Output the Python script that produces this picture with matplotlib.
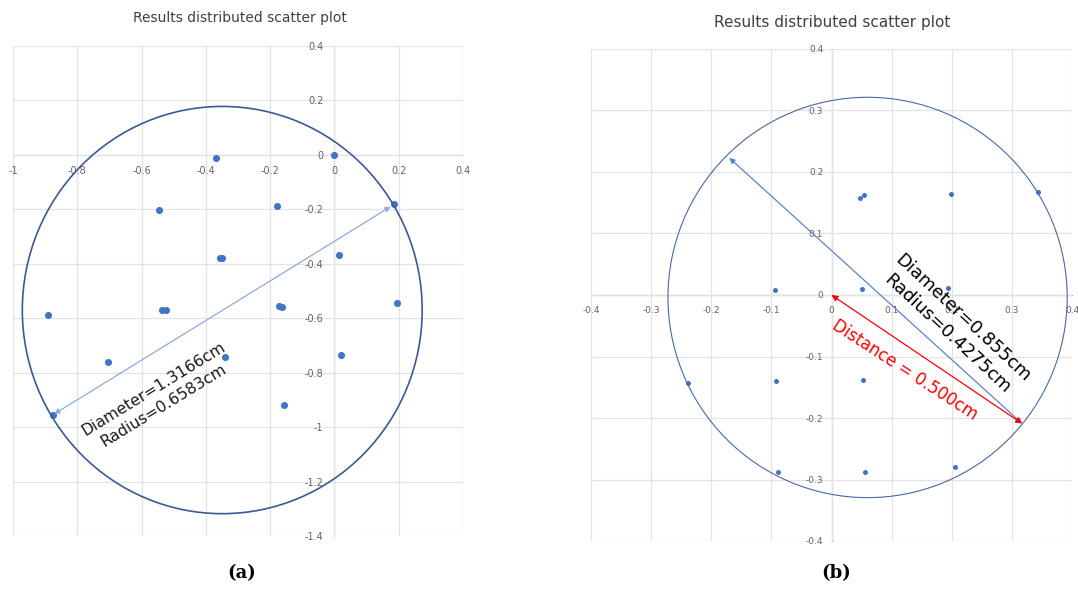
import matplotlib.pyplot as plt
from matplotlib.patches import Ellipse
from matplotlib.ticker import MultipleLocator, FuncFormatter

# ---- chart (a) ----
a_x = [-0.368, 0.0, -0.547, -0.179, 0.186, -0.357, -0.351, 0.013, -0.892,
       -0.535, -0.525, -0.172, -0.164, 0.195, -0.705, -0.340, 0.020, -0.157, -0.877]
a_y = [-0.012, 0.0, -0.204, -0.189, -0.179, -0.380, -0.377, -0.366, -0.588,
       -0.571, -0.571, -0.555, -0.558, -0.544, -0.762, -0.744, -0.734, -0.918, -0.955]
a_circle = (-0.349, -0.570, 1.244, 1.496)   # cx, cy, width, height
a_arrow = ((-0.872, -0.952), (0.175, -0.190))
a_label = 'Diameter=1.3166cm\nRadius=0.6583cm'
a_label_pos = (-0.547, -0.890)
a_xlim, a_ylim = (-1.0, 0.4), (-1.4, 0.4)

# ---- chart (b) ----
b_x = [0.047, 0.054, 0.199, 0.343, -0.094, 0.050, 0.193, -0.239, -0.093,
       0.052, -0.089, 0.055, 0.205]
b_y = [0.158, 0.162, 0.164, 0.167, 0.008, 0.009, 0.012, -0.143, -0.140,
       -0.139, -0.288, -0.287, -0.280]
b_circle = (0.060, -0.004, 0.664, 0.651)
b_arrow = ((-0.170, 0.223), (0.317, -0.209))
b_dist_arrow = ((0.0, 0.0), (0.317, -0.209))
b_label = 'Diameter=0.855cm\nRadius=0.4275cm'
b_label_pos = (0.206, -0.050)
b_dist_label = 'Distance = 0.500cm'
b_dist_pos = (0.122, -0.122)
b_xlim, b_ylim = (-0.4, 0.4), (-0.4, 0.4)

TITLE = 'Results distributed scatter plot'
DOT = '#4472C4'


def tick_fmt(v, _):
    return '{:g}'.format(round(v, 2))


def excel_axes(ax, xlim, ylim, step, axis_color, fs, xpad, ypad):
    ax.set_xlim(xlim)
    ax.set_ylim(ylim)
    ax.xaxis.set_major_locator(MultipleLocator(step))
    ax.yaxis.set_major_locator(MultipleLocator(step))
    ax.xaxis.set_major_formatter(FuncFormatter(tick_fmt))
    ax.yaxis.set_major_formatter(FuncFormatter(tick_fmt))
    ax.grid(True, color='#E3E3E3', linewidth=0.9)
    for ln in ax.get_xgridlines() + ax.get_ygridlines():
        ln.set_clip_on(False)
    ax.set_axisbelow(True)
    for s in ['top', 'right']:
        ax.spines[s].set_visible(False)
    for s in ['left', 'bottom']:
        ax.spines[s].set_position(('data', 0))
        ax.spines[s].set_color(axis_color)
        ax.spines[s].set_linewidth(0.9)
        ax.spines[s].set_zorder(0.5)
    ax.tick_params(axis='x', length=0, labelsize=fs, labelcolor='#636363', pad=xpad)
    ax.tick_params(axis='y', length=0, labelsize=fs, labelcolor='#636363', pad=ypad)


fig = plt.figure(figsize=(10.78, 5.90), dpi=100)

# (a)
ax1 = fig.add_axes([13 / 1078, 1 - 536 / 590, 450 / 1078, 490 / 590])
excel_axes(ax1, a_xlim, a_ylim, 0.2, '#D2D2D2', 7, 8, 8)
ax1.scatter(a_x, a_y, s=26, color=DOT, zorder=3, linewidths=0)
cx, cy, w, h = a_circle
ax1.add_patch(Ellipse((cx, cy), w, h, fill=False, edgecolor='#3B5998',
                      linewidth=1.2, zorder=4))
ax1.annotate('', xy=a_arrow[1], xytext=a_arrow[0],
             arrowprops=dict(arrowstyle='<|-|>', color='#8EAADB', lw=0.9,
                             mutation_scale=8, shrinkA=0, shrinkB=0), zorder=5)
ax1.text(a_label_pos[0], a_label_pos[1], a_label, rotation=31.5,
         rotation_mode='anchor', ha='center', va='center', fontsize=11.3,
         linespacing=1.35, color='#1A1A1A', zorder=6)

# (b)
ax2 = fig.add_axes([591 / 1078, 1 - 541 / 590, 481 / 1078, 492 / 590])
excel_axes(ax2, b_xlim, b_ylim, 0.1, '#BDBDBD', 6.5, 8, 6)
ax2.scatter(b_x, b_y, s=13, color=DOT, zorder=3, linewidths=0)
cx, cy, w, h = b_circle
ax2.add_patch(Ellipse((cx, cy), w, h, fill=False, edgecolor='#4A67A8',
                      linewidth=0.8, zorder=4))
ax2.annotate('', xy=b_arrow[1], xytext=b_arrow[0],
             arrowprops=dict(arrowstyle='<|-|>', color='#5B84CC', lw=0.9,
                             mutation_scale=8, shrinkA=0, shrinkB=0), zorder=5)
ax2.annotate('', xy=b_dist_arrow[1], xytext=b_dist_arrow[0],
             arrowprops=dict(arrowstyle='<|-|>', color='#FF0000', lw=0.9,
                             mutation_scale=9, shrinkA=0, shrinkB=0), zorder=6)
ax2.text(b_label_pos[0], b_label_pos[1], b_label, rotation=-43,
         rotation_mode='anchor', ha='center', va='center', fontsize=13,
         linespacing=1.3, color='black', zorder=7)
ax2.text(b_dist_pos[0], b_dist_pos[1], b_dist_label, rotation=-33,
         rotation_mode='anchor', ha='center', va='center', fontsize=12,
         color='#FF0000', zorder=7)

fig.text(240 / 1078, 1 - 18 / 590, TITLE, ha='center', va='center',
         fontsize=10, color='#404040')
fig.text(832 / 1078, 1 - 22 / 590, TITLE, ha='center', va='center',
         fontsize=11, color='#404040')
fig.text(242 / 1078, 1 - 573 / 590, '(a)', ha='center', va='center',
         fontsize=13, fontfamily='DejaVu Serif', fontweight='bold')
fig.text(836 / 1078, 1 - 573 / 590, '(b)', ha='center', va='center',
         fontsize=13, fontfamily='DejaVu Serif', fontweight='bold')

fig.savefig('out.png', dpi=100)
